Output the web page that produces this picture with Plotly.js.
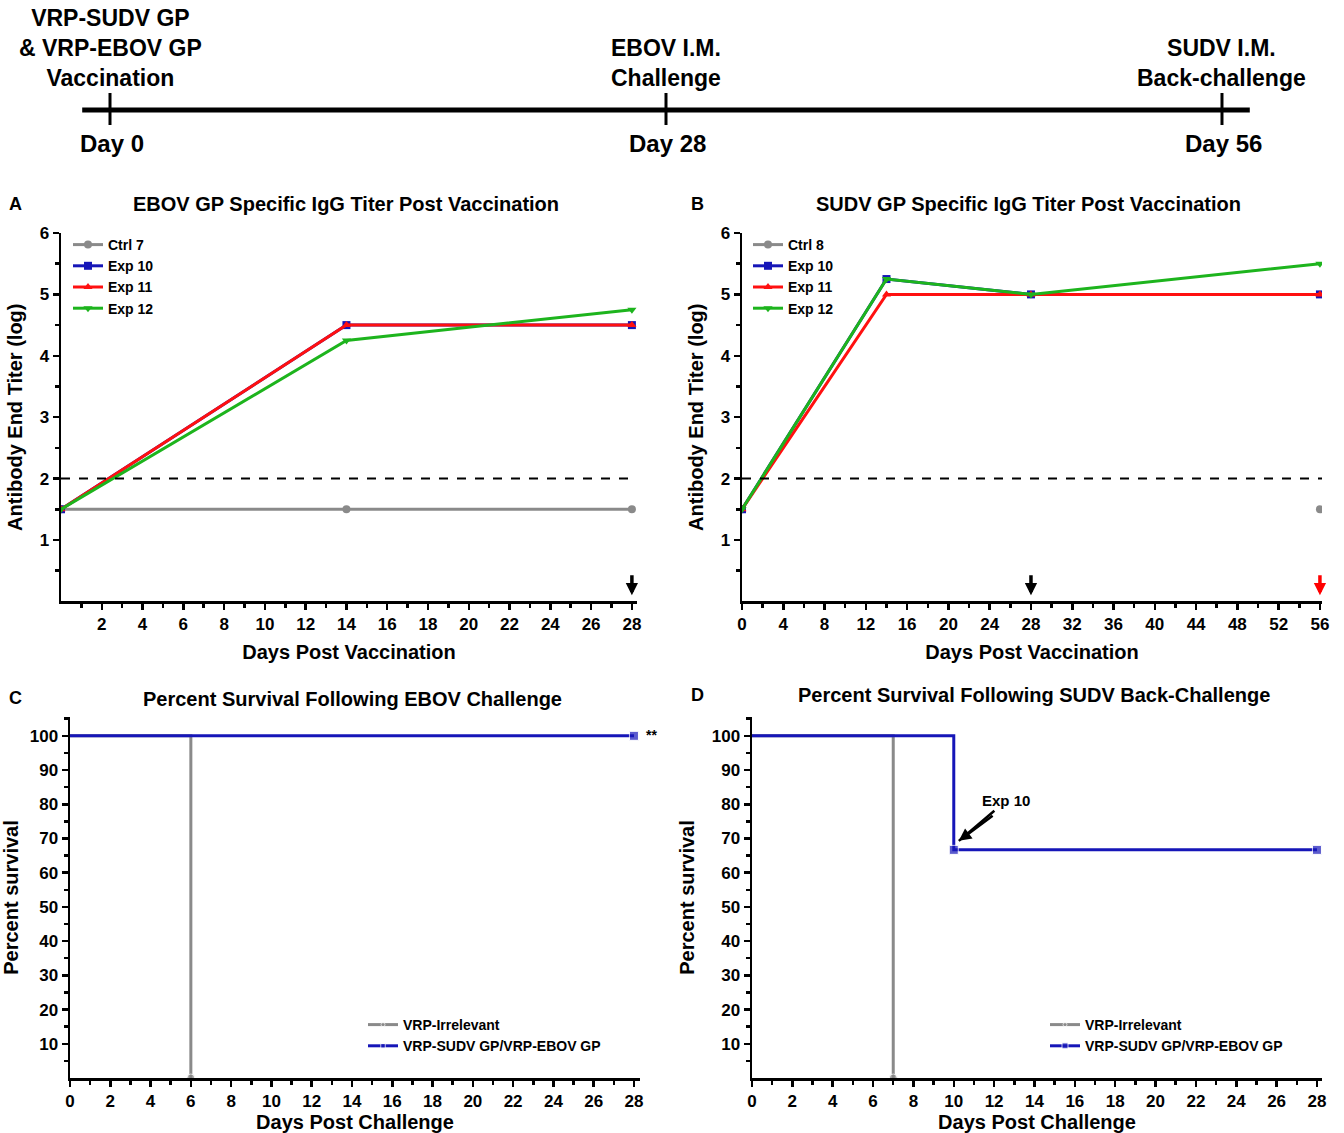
<!DOCTYPE html>
<html>
<head>
<meta charset="utf-8">
<script src="https://cdn.plot.ly/plotly-3.0.1.min.js"></script>
<style>html,body{margin:0;padding:0;background:#fff}#chart{width:1344px;height:1133px}</style>
</head>
<body>
<div id="chart"></div>
<script>
// ---------- DATA ----------
const timelineDays = [0, 28, 56];
const timelineEvents = ["VRP-SUDV GP<br>& VRP-EBOV GP<br>Vaccination", "EBOV I.M.<br>Challenge", "SUDV I.M.<br>Back-challenge"];
const timelineDayLabels = ["Day 0", "Day 28", "Day 56"];

// Panel A: EBOV GP specific IgG
const daysA = [0, 14, 28];
const ctrl7 = [1.5, 1.5, 1.5];
const expA10 = [1.5, 4.5, 4.5];
const expA11 = [1.5, 4.5, 4.5];
const expA12 = [1.5, 4.25, 4.75];
const arrowsA = [{x: 28, color: "#000000"}];

// Panel B: SUDV GP specific IgG
const daysB = [0, 14, 28, 56];
const ctrl8 = [1.5, null, null, 1.5];
const expB10 = [1.5, 5.25, 5.0, 5.0];
const expB11 = [1.5, 5.0, 5.0, 5.0];
const expB12 = [1.5, 5.25, 5.0, 5.5];
const arrowsB = [{x: 28, color: "#000000"}, {x: 56, color: "#ff0000"}];
const detectionLimit = 2;

// Panel C: survival after EBOV challenge
const irrelC_x = [0, 6];
const irrelC_y = [100, 0];
const vaccC_x = [0, 28];
const vaccC_y = [100, 100];

// Panel D: survival after SUDV back-challenge
const irrelD_x = [0, 7];
const irrelD_y = [100, 0];
const vaccD_x = [0, 10, 28];
const vaccD_y = [100, 66.67, 66.67];

const seriesNamesA = ["Ctrl 7", "Exp 10", "Exp 11", "Exp 12"];
const seriesNamesB = ["Ctrl 8", "Exp 10", "Exp 11", "Exp 12"];
const survivalNames = ["VRP-Irrelevant", "VRP-SUDV GP/VRP-EBOV GP"];

// ---------- STYLE ----------
const FONT = "Liberation Sans, Arial, sans-serif";
const GREY = "#8a8a8a", BLUE = "#1616b8", RED = "#ff1010", GREEN = "#1db41d";
const W = 1344, H = 1133;
const px = v => v / W;
const py = v => 1 - v / H;

function line(x, y, name, color, symbol, xa, ya, legend, extra) {
  return Object.assign({
    x: x, y: y, name: name, type: "scatter", mode: "lines+markers",
    xaxis: xa, yaxis: ya, legend: legend, connectgaps: false,
    line: {color: color, width: 3},
    marker: {color: color, symbol: symbol, size: 8},
    hoverinfo: "skip"
  }, extra || {});
}

const traces = [];
// Timeline
traces.push({x: [-1.4, 57.4], y: [0, 0], xaxis: "x5", yaxis: "y5", mode: "lines", type: "scatter",
  line: {color: "#000", width: 5}, showlegend: false, hoverinfo: "skip"});
timelineDays.forEach(d => traces.push({x: [d, d], y: [17, -15], xaxis: "x5", yaxis: "y5", mode: "lines",
  type: "scatter", line: {color: "#000", width: 3}, showlegend: false, hoverinfo: "skip"}));

// Panel A
traces.push(line(daysA, ctrl7, seriesNamesA[0], GREY, "circle", "x", "y", "legend"));
traces.push(line(daysA, expA10, seriesNamesA[1], BLUE, "square", "x", "y", "legend"));
traces.push(line(daysA, expA11, seriesNamesA[2], RED, "triangle-up", "x", "y", "legend"));
traces.push(line(daysA, expA12, seriesNamesA[3], GREEN, "triangle-down", "x", "y", "legend"));
// Panel B
traces.push(line(daysB, ctrl8, seriesNamesB[0], GREY, "circle", "x2", "y2", "legend2"));
traces.push(line(daysB, expB10, seriesNamesB[1], BLUE, "square", "x2", "y2", "legend2"));
traces.push(line(daysB, expB11, seriesNamesB[2], RED, "triangle-up", "x2", "y2", "legend2"));
traces.push(line(daysB, expB12, seriesNamesB[3], GREEN, "triangle-down", "x2", "y2", "legend2"));
// Panel C
traces.push(line(irrelC_x, irrelC_y, survivalNames[0], GREY, "circle", "x3", "y3", "legend3",
  {line: {color: GREY, width: 3, shape: "hv"}, marker: {color: GREY, symbol: "circle", size: irrelC_x.map((v, i) => i === irrelC_x.length - 1 ? 8 : 0)}}));
traces.push(line(vaccC_x, vaccC_y, survivalNames[1], BLUE, "square", "x3", "y3", "legend3",
  {line: {color: BLUE, width: 3, shape: "hv"}, marker: {color: BLUE, symbol: "square", size: vaccC_x.map((v, i) => i === 0 ? 0 : 9)}}));
// Panel D
traces.push(line(irrelD_x, irrelD_y, survivalNames[0], GREY, "circle", "x4", "y4", "legend4",
  {line: {color: GREY, width: 3, shape: "hv"}, marker: {color: GREY, symbol: "circle", size: irrelD_x.map((v, i) => i === irrelD_x.length - 1 ? 8 : 0)}}));
traces.push(line(vaccD_x, vaccD_y, survivalNames[1], BLUE, "square", "x4", "y4", "legend4",
  {line: {color: BLUE, width: 3, shape: "hv"}, marker: {color: BLUE, symbol: "square", size: vaccD_x.map((v, i) => i === 0 ? 0 : 9)}}));

const tickFont = {family: FONT, size: 17, color: "#000", weight: "bold"};
const titleFont = {family: FONT, size: 20, color: "#000", weight: "bold"};
const axTitleFont = {family: FONT, size: 20, color: "#000", weight: "bold"};
function axis(opts) {
  return Object.assign({
    showline: true, linecolor: "#000", linewidth: 2.5, ticks: "outside", ticklen: 6, tickwidth: 2.5,
    tickcolor: "#000", showgrid: false, zeroline: false, tickfont: tickFont, fixedrange: true
  }, opts);
}
const even = (a, b, s) => { const r = []; for (let v = a; v <= b + 1e-9; v += s) r.push(v); return r; };
const minorTicks = vals => ({tickvals: vals, ticks: "outside", ticklen: 4, tickwidth: 2.5, tickcolor: "#000"});

function legendCfg(x, y) {
  return {x: x, y: y, xanchor: "left", yanchor: "top", bgcolor: "rgba(0,0,0,0)",
    font: {family: FONT, size: 14, color: "#000", weight: "bold"}, tracegroupgap: 0, itemwidth: 30};
}

const annotations = [];
// Timeline text
timelineDays.forEach((d, i) => {
  annotations.push({xref: "x5", yref: "y5", x: d, y: 17, yanchor: "bottom", text: timelineEvents[i], showarrow: false,
    font: {family: FONT, size: 23, color: "#000", weight: "bold"}});
  annotations.push({xref: "x5", yref: "y5", x: d + 0.1, y: -33, yanchor: "middle", text: timelineDayLabels[i], showarrow: false,
    font: {family: FONT, size: 24, color: "#000", weight: "bold"}});
});
// Panel letters
[["A", 15, 204], ["B", 697, 204], ["C", 15, 698], ["D", 697, 695]].forEach(l => annotations.push({
  xref: "paper", yref: "paper", x: px(l[1]), y: py(l[2]), xanchor: "center", yanchor: "middle", text: l[0],
  showarrow: false, font: {family: FONT, size: 18, color: "#000", weight: "bold"}}));
// Panel titles
[["EBOV GP Specific IgG Titer Post Vaccination", 346, 204], ["SUDV GP Specific IgG Titer Post Vaccination", 1028, 204],
 ["Percent Survival Following EBOV Challenge", 352, 699], ["Percent Survival Following SUDV Back-Challenge", 1034, 695]]
  .forEach(t => annotations.push({xref: "paper", yref: "paper", x: px(t[1]), y: py(t[2]), xanchor: "center",
    yanchor: "middle", text: t[0], showarrow: false, font: titleFont}));
// Arrows (challenge markers)
arrowsA.forEach(a => annotations.push({xref: "x", yref: "y", axref: "x", ayref: "y", x: a.x, y: 0.1, ax: a.x, ay: 0.45,
  text: "", showarrow: true, arrowhead: 2, arrowsize: 0.7, arrowwidth: 3.5, arrowcolor: a.color}));
arrowsB.forEach(a => annotations.push({xref: "x2", yref: "y2", axref: "x2", ayref: "y2", x: a.x, y: 0.1, ax: a.x, ay: 0.45,
  text: "", showarrow: true, arrowhead: 2, arrowsize: 0.7, arrowwidth: 3.5, arrowcolor: a.color}));
// ** in C
annotations.push({xref: "x3", yref: "y3", x: vaccC_x[vaccC_x.length - 1], y: vaccC_y[vaccC_y.length - 1], xshift: 18, yshift: 1,
  text: "**", showarrow: false, font: {family: FONT, size: 14, color: "#000", weight: "bold"}});
// Exp 10 in D
annotations.push({xref: "x4", yref: "y4", axref: "x4", ayref: "y4", x: 10.25, y: 69.3, ax: 12.6, ay: 81,
  text: "Exp 10", showarrow: true, arrowhead: 0, arrowwidth: 2.5, arrowcolor: "#000", standoff: 0,
  font: {family: FONT, size: 15, color: "#000", weight: "bold"}});
annotations.push({xref: "x4", yref: "y4", axref: "x4", ayref: "y4", x: 10.25, y: 69.3, ax: 12.0, ay: 77,
  text: "", showarrow: true, arrowhead: 2, arrowsize: 1, arrowwidth: 2.5, arrowcolor: "#000"});

const shapes = [
  {type: "line", xref: "x domain", yref: "y", x0: 0, x1: 1, y0: detectionLimit, y1: detectionLimit,
    line: {color: "#000", width: 2, dash: "dash"}},
  {type: "line", xref: "x2 domain", yref: "y2", x0: 0, x1: 1, y0: detectionLimit, y1: detectionLimit,
    line: {color: "#000", width: 2, dash: "dash"}}
];

const layout = {
  width: W, height: H, margin: {l: 0, r: 0, t: 0, b: 0}, paper_bgcolor: "#fff", plot_bgcolor: "rgba(0,0,0,0)",
  font: {family: FONT, color: "#000"}, hovermode: false,
  xaxis5: {domain: [0, 1], range: [-110 / 19.857, (W - 110) / 19.857], visible: false, fixedrange: true, anchor: "y5"},
  yaxis5: {domain: [py(170), 1], range: [-60, 110], visible: false, fixedrange: true, anchor: "x5"},
  xaxis: axis({domain: [px(61), px(637)], range: [0, 28.25], anchor: "y", tickvals: even(2, 28, 2),
    minor: minorTicks(even(1, 28, 1)), title: {text: "Days Post Vaccination", font: axTitleFont, standoff: 12}}),
  yaxis: axis({domain: [py(601.4), py(233)], range: [0, 6], anchor: "x", tickvals: even(1, 6, 1),
    minor: minorTicks(even(0.5, 5.5, 1)), title: {text: "Antibody End Titer (log)", font: axTitleFont, standoff: 12}}),
  xaxis2: axis({domain: [px(742), px(1322)], range: [0, 56.2], anchor: "y2", tickvals: even(0, 56, 4),
    minor: minorTicks(even(2, 54, 4)), title: {text: "Days Post Vaccination", font: axTitleFont, standoff: 12}}),
  yaxis2: axis({domain: [py(601.4), py(233)], range: [0, 6], anchor: "x2", tickvals: even(1, 6, 1),
    minor: minorTicks(even(0.5, 5.5, 1)), title: {text: "Antibody End Titer (log)", font: axTitleFont, standoff: 12}}),
  xaxis3: axis({domain: [px(70), px(640)], range: [0, 28.3], anchor: "y3", tickvals: even(0, 28, 2),
    minor: minorTicks(even(1, 27, 2)), title: {text: "Days Post Challenge", font: axTitleFont, standoff: 10}}),
  yaxis3: axis({domain: [py(1078), py(717)], range: [0, 105.5], anchor: "x3", tickvals: even(10, 100, 10),
    minor: minorTicks(even(5, 105, 10)), title: {text: "Percent survival", font: axTitleFont, standoff: 12}}),
  xaxis4: axis({domain: [px(752), px(1322)], range: [0, 28.25], anchor: "y4", tickvals: even(0, 28, 2),
    minor: minorTicks(even(1, 27, 2)), title: {text: "Days Post Challenge", font: axTitleFont, standoff: 10}}),
  yaxis4: axis({domain: [py(1078), py(717)], range: [0, 105.5], anchor: "x4", tickvals: even(10, 100, 10),
    minor: minorTicks(even(5, 105, 10)), title: {text: "Percent survival", font: axTitleFont, standoff: 12}}),
  legend: legendCfg(px(68), py(229)),
  legend2: legendCfg(px(748), py(229)),
  legend3: legendCfg(px(363), py(1009)),
  legend4: legendCfg(px(1045), py(1009)),
  annotations: annotations,
  shapes: shapes
};

Plotly.newPlot("chart", traces, layout, {staticPlot: true, displayModeBar: false});
</script>
</body>
</html>
